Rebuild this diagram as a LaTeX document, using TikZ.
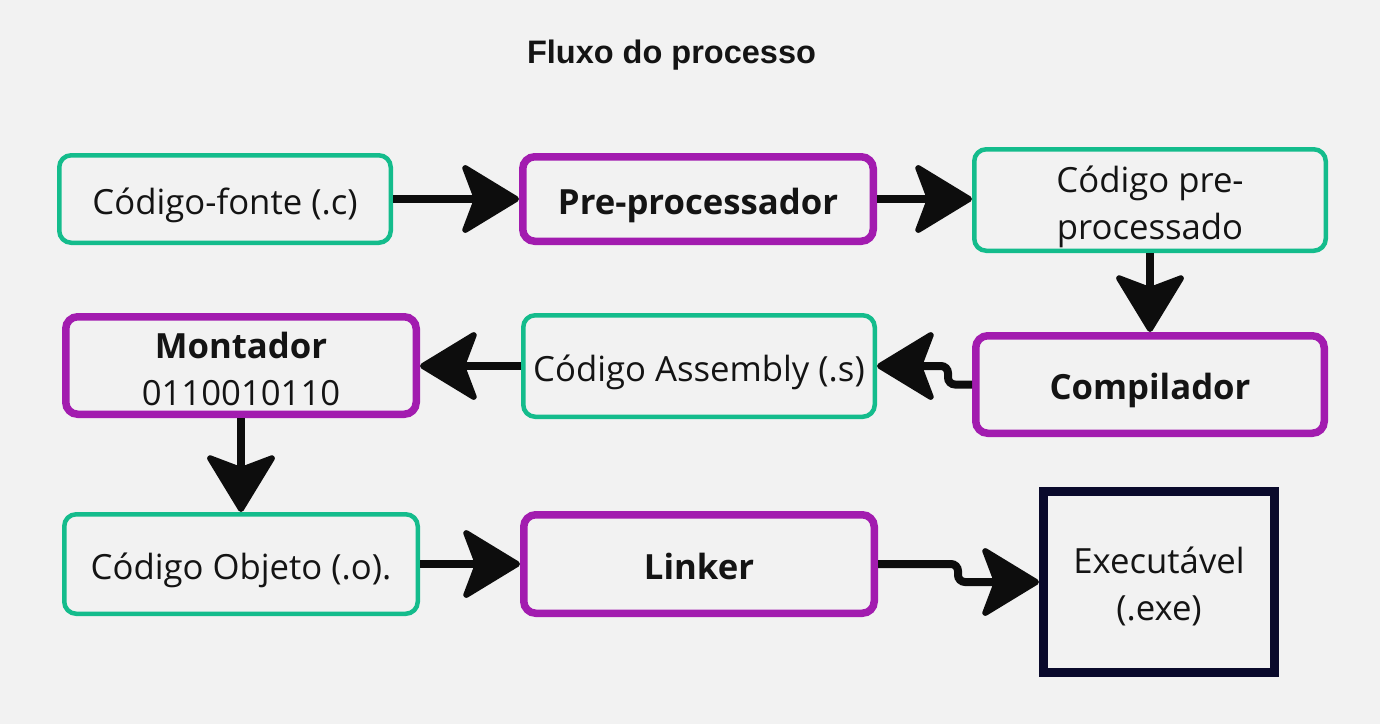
\documentclass[tikz,border=0pt]{standalone}
\usepackage{fontspec}
\setmainfont{Open Sans}
\newfontfamily\titlefont{Liberation Sans}
\usetikzlibrary{arrows.meta}
\definecolor{bg}{HTML}{F2F2F2}
\definecolor{grn}{HTML}{14BC8C}
\definecolor{prp}{HTML}{A21CAF}
\definecolor{nvy}{HTML}{0A0A2C}
\definecolor{ink}{HTML}{141414}
\definecolor{arr}{HTML}{0D0D0D}
\newcommand\boxfont{\fontsize{34.7pt}{47.5pt}\selectfont}
\tikzset{
  box/.style={rectangle, rounded corners=12pt, inner sep=0pt, text=ink,
    font=\boxfont, text height=30pt, text depth=0pt},
  databox/.style={box, draw=grn, line width=4.5pt},
  procbox/.style={box, draw=prp, line width=7.5pt},
  finalbox/.style={rectangle, draw=nvy, line width=9pt, inner sep=0pt, text=ink, font=\boxfont},
  flow/.style={draw=arr, line width=8pt,
    -{Stealth[length=62pt, width=75pt, inset=14pt, round, line width=6pt]}},
}
\begin{document}
\begin{tikzpicture}[x=1pt, y=-1pt]
\fill[bg] (0,0) rectangle (1380,724);
\useasboundingbox (0,0) rectangle (1380,724);

\node[anchor=base, font=\titlefont\bfseries\fontsize{32.5pt}{38pt}\selectfont, text=ink] (title) at (671.5,63) {Fluxo do processo};

\node[databox, minimum width=331.5pt, minimum height=87.5pt] (fonte) at (225,199) {Código-fonte (.c)};
\node[procbox, minimum width=350.5pt, minimum height=84.5pt] (pre) at (698,199) {\bfseries Pre-processador};
\node[databox, minimum width=351.5pt, minimum height=101.5pt, text height=30pt, text depth=46pt] (cpp) at (1150,200)
  {\begin{tabular}[t]{@{}c@{}}Código pre-\\processado\end{tabular}};
\node[procbox, minimum width=348.5pt, minimum height=97.5pt] (comp) at (1150,384.5) {\bfseries Compilador};
\node[databox, minimum width=351.5pt, minimum height=101.5pt] (asm) at (699,366) {Código Assembly (.s)};
\node[procbox, minimum width=350.5pt, minimum height=97.5pt, text height=30pt, text depth=45pt] (mont) at (241,365.5)
  {\begin{tabular}[t]{@{}c@{}}\bfseries Montador\\0110010110\end{tabular}};
\node[databox, minimum width=353.5pt, minimum height=99.5pt] (obj) at (241,564) {Código Objeto (.o).};
\node[procbox, minimum width=350.5pt, minimum height=98.5pt] (link) at (699,564) {\bfseries Linker};
\node[finalbox, minimum width=231pt, minimum height=181pt, text height=30pt, text depth=48pt] (exe) at (1159,582)
  {\begin{tabular}[t]{@{}c@{}}Executável\\(.exe)\end{tabular}};

\draw[flow] (fonte.east) -- (pre.west);
\draw[flow] (pre.east) -- (pre.east -| cpp.west);
\draw[flow] (cpp.south) -- (comp.north);
\draw[flow, rounded corners=7pt] (comp.west) -- ++(-24,0) |- (asm.east);
\draw[flow] (asm.west) -- (asm.west -| mont.east);
\draw[flow] (mont.south) -- (obj.north);
\draw[flow] (obj.east) -- (link.west);
\draw[flow, rounded corners=7pt] (link.east) -- ++(80,0) |- (exe.west);
\end{tikzpicture}
\end{document}
